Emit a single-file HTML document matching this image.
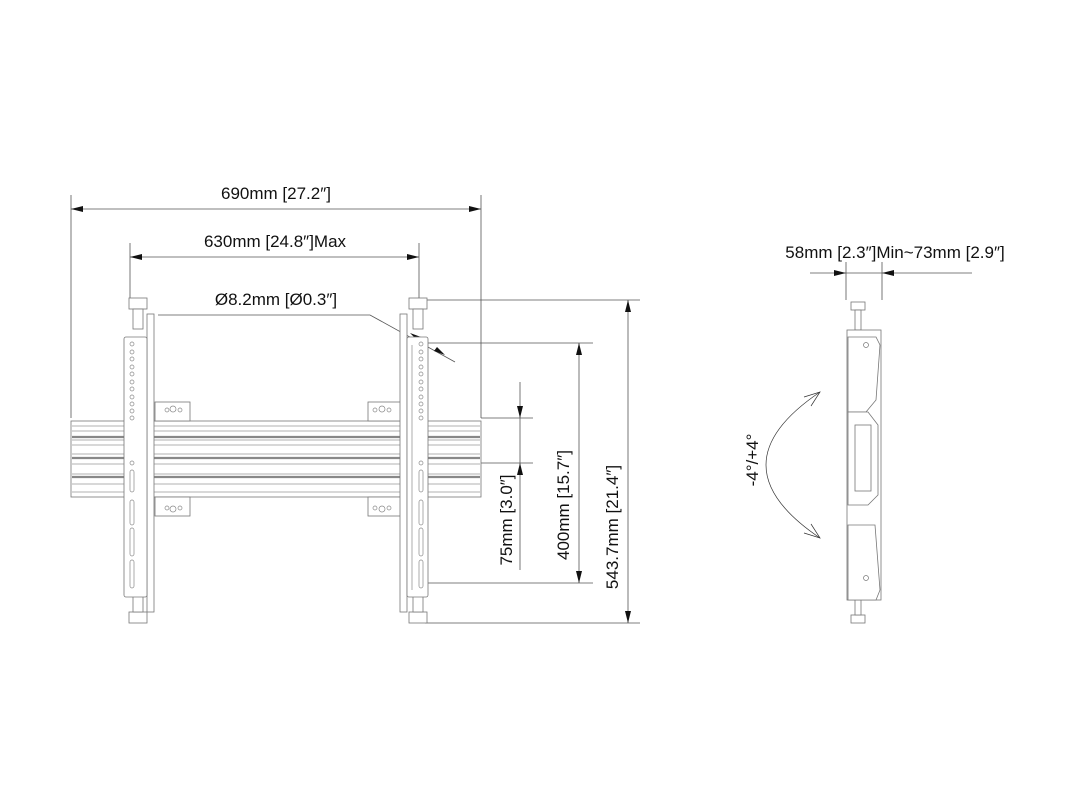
<!DOCTYPE html>
<html><head><meta charset="utf-8"><style>
html,body{margin:0;padding:0;background:#fff;}
svg{display:block;}
text{font-family:"Liberation Sans",Arial,sans-serif;fill:#111;}
</style></head><body>
<svg width="1080" height="810" viewBox="0 0 1080 810" xmlns="http://www.w3.org/2000/svg">
<g stroke="#555" stroke-width="0.8" fill="none">
<line x1="71" y1="195" x2="71" y2="418"/>
<line x1="481" y1="195" x2="481" y2="418"/>
<line x1="71" y1="209" x2="481" y2="209"/>
<line x1="130" y1="243" x2="130" y2="298"/>
<line x1="419" y1="243" x2="419" y2="298"/>
<line x1="130" y1="257" x2="419" y2="257"/>
<polyline points="158,315 370,315 455,362"/>
<line x1="425" y1="300" x2="640" y2="300"/>
<line x1="425" y1="623" x2="640" y2="623"/>
<line x1="425" y1="343" x2="593" y2="343"/>
<line x1="425" y1="583" x2="593" y2="583"/>
<line x1="481" y1="418" x2="533" y2="418"/>
<line x1="425" y1="463" x2="533" y2="463"/>
<line x1="628" y1="300" x2="628" y2="623"/>
<line x1="579" y1="343" x2="579" y2="583"/>
<line x1="520" y1="382" x2="520" y2="570"/>
<line x1="810" y1="273" x2="972" y2="273"/>
<line x1="846" y1="262" x2="846" y2="300"/>
<line x1="882" y1="262" x2="882" y2="300"/>
</g>
<g fill="#111">
<path d="M71,209 l12,-3 v6z M481,209 l-12,-3 v6z"/>
<path d="M130,257 l12,-3 v6z M419,257 l-12,-3 v6z"/>
<path d="M628,300 l-3,12 h6z M628,623 l-3,-12 h6z"/>
<path d="M579,343 l-3,12 h6z M579,583 l-3,-12 h6z"/>
<path d="M520,418 l-3,-12 h6z M520,463 l-3,12 h6z"/>
<path d="M846,273 l-12,-3 v6z M882,273 l12,-3 v6z"/>
<path d="M410,333 l11,4 l-3,4z M445,355 l-11,-4 l3,-4z"/>
</g>
<text x="276" y="199" font-size="17" text-anchor="middle">690mm [27.2″]</text>
<text x="275" y="247" font-size="17" text-anchor="middle">630mm [24.8″]Max</text>
<text x="276" y="305" font-size="17" text-anchor="middle">Ø8.2mm [Ø0.3″]</text>
<text x="895" y="258" font-size="17" text-anchor="middle">58mm [2.3″]Min~73mm [2.9″]</text>
<text transform="translate(512,520) rotate(-90)" font-size="17" text-anchor="middle">75mm [3.0″]</text>
<text transform="translate(569,505) rotate(-90)" font-size="17" text-anchor="middle">400mm [15.7″]</text>
<text transform="translate(618,527) rotate(-90)" font-size="17" text-anchor="middle">543.7mm [21.4″]</text>
<text transform="translate(758,460) rotate(-90)" font-size="17" text-anchor="middle">-4°/+4°</text>
<g stroke="#777" stroke-width="0.8" fill="#fff">
<rect x="71" y="421" width="410" height="76"/>
</g>
<g stroke="#999" stroke-width="0.7">
<line x1="72" y1="426" x2="480" y2="426"/><line x1="72" y1="431" x2="480" y2="431"/>
<line x1="72" y1="440" x2="480" y2="440"/><line x1="72" y1="445" x2="480" y2="445"/>
<line x1="72" y1="454" x2="480" y2="454"/><line x1="72" y1="464" x2="480" y2="464"/>
<line x1="72" y1="474" x2="480" y2="474"/><line x1="72" y1="484" x2="480" y2="484"/>
<line x1="72" y1="492" x2="480" y2="492"/>
</g>
<g stroke="#888" stroke-width="2.2">
<line x1="72" y1="437" x2="480" y2="437"/><line x1="72" y1="458" x2="480" y2="458"/><line x1="72" y1="477" x2="480" y2="477"/>
</g>
<g stroke="#777" stroke-width="0.8" fill="#fff">
<rect x="155" y="402" width="35" height="19"/><rect x="155" y="497" width="35" height="19"/>
<rect x="368" y="402" width="35" height="19"/><rect x="368" y="497" width="35" height="19"/>
</g>
<g stroke="#777" stroke-width="0.8" fill="#fff">
<rect x="129" y="298" width="18" height="11"/><rect x="129" y="612" width="18" height="11"/>
<rect x="133" y="309" width="10" height="20"/><rect x="133" y="592" width="10" height="20"/>
<rect x="147" y="314" width="7" height="298"/>
<rect x="124" y="337" width="23" height="260" rx="2"/>
<rect x="409" y="298" width="18" height="11"/><rect x="409" y="612" width="18" height="11"/>
<rect x="413" y="309" width="10" height="20"/><rect x="413" y="592" width="10" height="20"/>
<rect x="400" y="314" width="7" height="298"/>
<rect x="407" y="337" width="21" height="260" rx="2"/>
</g>
<g stroke="#888" stroke-width="0.7" fill="none">
<circle cx="132" cy="344" r="2"/><circle cx="132" cy="352" r="2"/><circle cx="132" cy="359" r="2"/><circle cx="132" cy="367" r="2"/><circle cx="132" cy="374" r="2"/><circle cx="132" cy="382" r="2"/><circle cx="132" cy="389" r="2"/><circle cx="132" cy="397" r="2"/><circle cx="132" cy="404" r="2"/><circle cx="132" cy="411" r="2"/><circle cx="132" cy="418" r="2"/><circle cx="132" cy="463" r="2"/>
<rect x="130" y="470" width="4" height="22" rx="2"/><rect x="130" y="500" width="4" height="25" rx="2"/><rect x="130" y="528" width="4" height="28" rx="2"/><rect x="130" y="560" width="4" height="28" rx="2"/>
<circle cx="421" cy="344" r="2"/><circle cx="421" cy="352" r="2"/><circle cx="421" cy="359" r="2"/><circle cx="421" cy="367" r="2"/><circle cx="421" cy="374" r="2"/><circle cx="421" cy="382" r="2"/><circle cx="421" cy="389" r="2"/><circle cx="421" cy="397" r="2"/><circle cx="421" cy="404" r="2"/><circle cx="421" cy="411" r="2"/><circle cx="421" cy="418" r="2"/><circle cx="421" cy="463" r="2"/>
<rect x="419" y="470" width="4" height="22" rx="2"/><rect x="419" y="500" width="4" height="25" rx="2"/><rect x="419" y="528" width="4" height="28" rx="2"/><rect x="419" y="560" width="4" height="28" rx="2"/>
<line x1="412" y1="345" x2="412" y2="590"/>
<circle cx="167" cy="410" r="2"/><circle cx="173" cy="409" r="3"/><circle cx="180" cy="410" r="2"/>
<circle cx="167" cy="508" r="2"/><circle cx="173" cy="509" r="3"/><circle cx="180" cy="508" r="2"/>
<circle cx="375" cy="410" r="2"/><circle cx="382" cy="409" r="3"/><circle cx="389" cy="410" r="2"/>
<circle cx="375" cy="508" r="2"/><circle cx="382" cy="509" r="3"/><circle cx="389" cy="508" r="2"/>
</g>
<g stroke="#777" stroke-width="0.8" fill="#fff">
<rect x="851" y="302" width="14" height="8"/><rect x="851" y="615" width="14" height="8"/>
<rect x="855" y="310" width="6" height="20"/><rect x="855" y="592" width="6" height="23"/>
<rect x="847" y="330" width="34" height="270"/>
<path d="M848,337 L876,337 L880,345 L876,400 L866,412 L848,412 z"/>
<path d="M848,412 L868,412 L878,425 L878,495 L868,505 L848,505 z"/>
<path d="M848,525 L875,525 L880,590 L876,600 L848,600 z"/>
<rect x="855" y="425" width="16" height="66"/>
</g>
<g stroke="#777" stroke-width="0.7" fill="none">
<circle cx="866" cy="345" r="2.5"/><circle cx="866" cy="578" r="2.5"/>
<path d="M820,392 Q712,465 820,538" stroke="#333"/>
<path d="M804,397 L820,392 L811,406 M804,533 L820,538 L811,524" stroke="#333"/>
</g>
</svg>
</body></html>
